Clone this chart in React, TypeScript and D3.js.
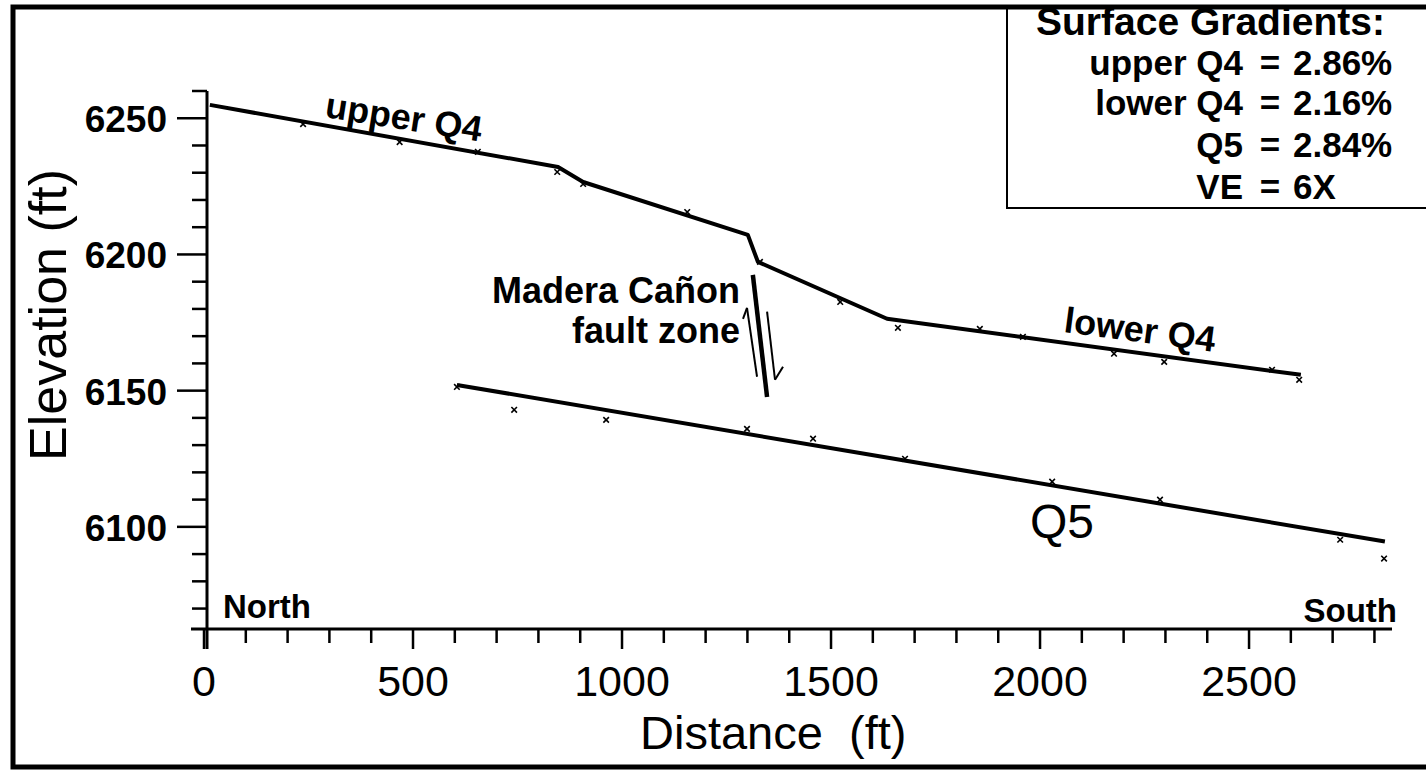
import React from 'react';
import * as d3 from 'd3';

// Profile of the Q4 terrace surface (upper Q4 -> fault scarp -> lower Q4)
const q4Dist = [14, 847, 907, 1301, 1325, 1634, 2624];
const q4Elev = [6254.9, 6232.1, 6226.6, 6207.2, 6197.3, 6176.4, 6155.8];

// Q5 surface regression line
const q5Dist = [605, 2825];
const q5Elev = [6152.1, 6094.6];

// Surveyed points (small x marks)
const q4PtDist = [237, 468, 655, 845, 907, 1156, 1330, 1522, 1660, 1856, 1959, 2177, 2297, 2555, 2620];
const q4PtElev = [6248.6, 6242.0, 6238.4, 6231.0, 6226.6, 6216.3, 6198.0, 6183.3, 6173.8, 6173.4, 6170.5, 6164.3, 6161.3, 6158.4, 6154.7];
const q5PtDist = [605, 742, 962, 1299, 1457, 1677, 2029, 2287, 2718, 2823];
const q5PtElev = [6152.1, 6143.7, 6140.0, 6136.7, 6133.1, 6125.7, 6117.3, 6110.7, 6096.0, 6089.1];

// Fault zone strands [dist, elev]
const faultMain = [[1313, 6192.5], [1347, 6147.7]];
const faultLeft = [[1299, 6180.4], [1323, 6155.1]];
const faultRight = [[1347, 6179.0], [1366, 6154.0]];

const xMajor = [0, 500, 1000, 1500, 2000, 2500];
const yMajor = [6100, 6150, 6200, 6250];

const legendTitle = 'Surface Gradients:';
const legendNames = ['upper Q4', 'lower Q4', 'Q5', 'VE'];
const legendValues = ['2.86%', '2.16%', '2.84%', '6X'];

const FONT = '"Liberation Sans", Arial, Helvetica, sans-serif';

export default function App() {
  const W = 1426, H = 772;
  const x = d3.scaleLinear().domain([0, 2842]).range([204, 1392]);
  const y = d3.scaleLinear().domain([6062.5, 6260]).range([629, 91]);
  const line = d3.line<[number, number]>().x(d => x(d[0])).y(d => y(d[1]));
  const q4 = q4Dist.map((d, i) => [d, q4Elev[i]] as [number, number]);
  const q5 = q5Dist.map((d, i) => [d, q5Elev[i]] as [number, number]);
  const pts = [
    ...q4PtDist.map((d, i) => [d, q4PtElev[i]]),
    ...q5PtDist.map((d, i) => [d, q5PtElev[i]]),
  ];
  const xMinorTicks = x.ticks(30);
  const yMinorTicks = y.ticks(20);
  const sym = d3.symbol(d3.symbolX, 22)();
  const y0 = y(6062.5);
  const xAxisX = x(0) + 3;

  const fl = faultLeft.map(p => [x(p[0]), y(p[1])]);
  const fr = faultRight.map(p => [x(p[0]), y(p[1])]);

  const legendBaselines = [75, 115, 157, 199];

  return (
    <svg width={W} height={H} style={{ position: 'absolute', left: 0, top: 0, background: '#fff' }} fontFamily={FONT}>
      <rect x={0} y={0} width={W} height={H} fill="#fff" />
      {/* outer frame */}
      <rect x={13} y={7} width={W + 20} height={760} fill="none" stroke="#000" strokeWidth={5} />

      {/* legend box */}
      <path d={`M1007,7 V208 H${W}`} fill="none" stroke="#000" strokeWidth={2} />
      <text x={1036} y={35} fontSize={39} fontWeight="bold">{legendTitle}</text>
      {legendNames.map((n, i) => (
        <g key={n} fontSize={35} fontWeight="bold">
          <text x={1243} y={legendBaselines[i]} textAnchor="end">{n}</text>
          <text x={1270} y={legendBaselines[i]} textAnchor="middle">=</text>
          <text x={1293} y={legendBaselines[i]}>{legendValues[i]}</text>
        </g>
      ))}

      {/* y axis */}
      <line x1={xAxisX} x2={xAxisX} y1={y(6260)} y2={y0 + 20} stroke="#000" strokeWidth={3} />
      {yMinorTicks.map(t => (
        <line key={'ym' + t} x1={xAxisX - (yMajor.includes(t) ? 30 : 15)} x2={xAxisX}
          y1={y(t)} y2={y(t)} stroke="#000" strokeWidth={2.5} />
      ))}
      {yMajor.map(t => (
        <text key={'yl' + t} x={167} y={y(t) + 14} textAnchor="end" fontSize={37} fontWeight="bold">{t}</text>
      ))}

      {/* x axis */}
      <line x1={xAxisX - 16} x2={x(2842)} y1={y0} y2={y0} stroke="#000" strokeWidth={3} />
      {xMinorTicks.map(t => (
        <line key={'xm' + t} x1={x(t)} x2={x(t)} y1={y0}
          y2={y0 + (xMajor.includes(t) ? 20 : 14)} stroke="#000" strokeWidth={2.5} />
      ))}
      {xMajor.map(t => (
        <text key={'xl' + t} x={x(t)} y={696} textAnchor="middle" fontSize={43}>{t}</text>
      ))}

      {/* axis titles */}
      <text x={640} y={749} fontSize={47} style={{ whiteSpace: 'pre' }}>{'Distance  (ft)'}</text>
      <text transform="translate(66,315) rotate(-90)" textAnchor="middle" fontSize={52}>Elevation (ft)</text>

      {/* direction labels */}
      <text x={223} y={618} fontSize={33} fontWeight="bold">North</text>
      <text x={1397} y={622} fontSize={33} fontWeight="bold" textAnchor="end">South</text>

      {/* surfaces */}
      <path d={line(q4) || ''} fill="none" stroke="#000" strokeWidth={4} strokeLinejoin="round" />
      <path d={line(q5) || ''} fill="none" stroke="#000" strokeWidth={4} />
      {pts.map((p, i) => (
        <path key={'p' + i} d={sym || ''} transform={`translate(${x(p[0])},${y(p[1]) + 2})`}
          fill="none" stroke="#000" strokeWidth={1.6} />
      ))}

      {/* fault zone */}
      <path d={line(faultMain as [number, number][]) || ''} stroke="#000" strokeWidth={4.5} fill="none" />
      <path d={line(faultLeft as [number, number][]) || ''} stroke="#000" strokeWidth={2} fill="none" />
      <path d={line(faultRight as [number, number][]) || ''} stroke="#000" strokeWidth={2} fill="none" />
      <line x1={fl[0][0]} y1={fl[0][1]} x2={fl[0][0] - 4} y2={fl[0][1] + 11} stroke="#000" strokeWidth={2} />
      <line x1={fr[1][0]} y1={fr[1][1]} x2={fr[1][0] + 8} y2={fr[1][1] - 13} stroke="#000" strokeWidth={2} />

      {/* annotations */}
      <text x={740} y={303} textAnchor="end" fontSize={36} fontWeight="bold">Madera Cañon</text>
      <text x={740} y={343} textAnchor="end" fontSize={36} fontWeight="bold">fault zone</text>
      <text transform="translate(324,117) rotate(9)" fontSize={36} fontWeight="bold">upper Q4</text>
      <text transform="translate(1063,332) rotate(7.5)" fontSize={36} fontWeight="bold">lower Q4</text>
      <text x={1030} y={538} fontSize={48}>Q5</text>
    </svg>
  );
}
